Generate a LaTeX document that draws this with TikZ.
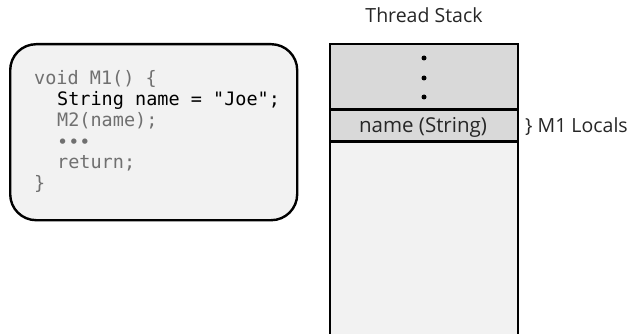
\documentclass[tikz,border=0pt]{standalone}
\usepackage{fontspec}
\setmainfont{Open Sans}
\newfontfamily\codefont{DejaVu Sans Mono}
\definecolor{stackdark}{HTML}{D9D9D9}
\definecolor{stacklight}{HTML}{F2F2F2}
\definecolor{codegray}{HTML}{707070}
\begin{document}
\begin{tikzpicture}[x=1pt,y=-1pt,
  outline/.style={draw=black,line width=2.4pt},
  label/.style={font=\fontsize{19.5}{23}\selectfont,inner sep=0pt,text=black!85},
  codeline/.style={font=\codefont\fontsize{18.5}{21}\selectfont,inner sep=0pt,anchor=base west,text=codegray},
  dotmark/.style={circle,fill=black,inner sep=0pt,minimum size=5pt}]
\useasboundingbox (0,0) rectangle (631,334);
% code box
\node[outline,fill=stacklight,rounded corners=26pt,minimum width=287pt,minimum height=176pt,anchor=north west] (code) at (9,43) {};
\node[codeline] (l1) at (34,85) {void M1() \{};
\node[codeline,text=black] (l2) at (57,106) {String name = "Joe";};
\node[codeline] (l3) at (57,127) {M2(name);};
\node[codeline] (l4) at (57,148) {•••};
\node[codeline] (l5) at (57,168) {return;};
\node[codeline] (l6) at (34,189) {\}};
% stack
\begin{scope}
\clip (0,0) rectangle (631,334);
\fill[stacklight] (330,141) rectangle (518,340);
\fill[stackdark] (330,44) rectangle (518,141);
\draw[outline] (330,340) -- (330,44) -- (518,44) -- (518,340);
\draw[outline] (330,109.5) -- (518,109.5);
\draw[outline] (330,141.5) -- (518,141.5);
\end{scope}
\node[dotmark] (d1) at (424,58) {};
\node[dotmark] (d2) at (424,78) {};
\node[dotmark] (d3) at (424,97) {};
\node[label,anchor=base,font=\fontsize{20.5}{23}\selectfont] (name) at (423,132) {name (String)};
\node[label,anchor=base] (title) at (424,23) {Thread Stack};
\node[label,anchor=base west] (locals) at (525,132) {\} M1 Locals};
\end{tikzpicture}
\end{document}
